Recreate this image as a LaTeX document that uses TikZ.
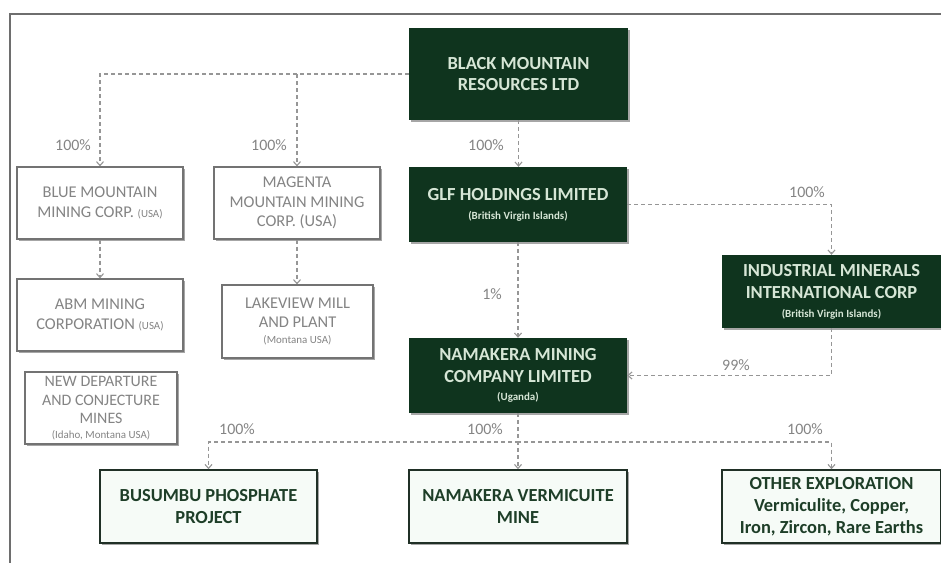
\documentclass[tikz,border=0pt]{standalone}
\usepackage{fontspec}
\setmainfont{Carlito}
\usetikzlibrary{arrows.meta,shadows}

\definecolor{deepgreen}{RGB}{15,52,30}
\definecolor{paletext}{RGB}{214,230,214}
\definecolor{greyline}{RGB}{150,150,150}
\definecolor{greytext}{RGB}{132,132,132}
\definecolor{greyborder}{RGB}{115,115,115}
\definecolor{mintfill}{RGB}{246,251,247}
\definecolor{darkborder}{RGB}{32,48,38}
\definecolor{forest}{RGB}{30,62,40}
\definecolor{framegrey}{RGB}{110,110,110}

\newcommand{\subnote}[1]{{\fontsize{11}{12}\selectfont #1}}

\tikzset{
  boxshadow/.style={drop shadow={shadow xshift=1.6bp, shadow yshift=-1.6bp, fill=black, opacity=0.35}},
  darkbox/.style={rectangle, fill=deepgreen, draw=none, text=paletext, align=center,
    inner sep=0pt, font=\bfseries\fontsize{18.5}{22}\selectfont, boxshadow},
  greybox/.style={rectangle, fill=white, draw=greyborder, line width=1.2bp, text=greytext,
    align=center, inner sep=0pt, font=\fontsize{16.5}{19.5}\selectfont, boxshadow},
  lightbox/.style={rectangle, fill=mintfill, draw=darkborder, line width=1.5bp, text=forest,
    align=center, inner sep=0pt, font=\bfseries\fontsize{18.5}{22}\selectfont, boxshadow},
  link/.style={draw=greyline, line width=1.1bp, dash pattern=on 4bp off 3bp,
    -{Straight Barb[length=4bp,width=7bp]}},
  pct/.style={text=greytext, inner sep=0pt, font=\fontsize{16}{18}\selectfont},
}

\begin{document}
\begin{tikzpicture}[x=1bp,y=-1bp]
\useasboundingbox (0,0) rectangle (941,563);

% page frame (left and top rules)
\draw[framegrey, line width=1.5bp] (10,563) -- (10,14) -- (941,14);

% parent and holding companies
\node[darkbox, minimum width=219bp, minimum height=92bp] (bmr) at (518.5,74)
  {BLACK MOUNTAIN\\RESOURCES LTD};
\node[darkbox, minimum width=218bp, minimum height=75bp] (glf) at (518,204.5)
  {GLF HOLDINGS LIMITED\\[-3pt]\subnote{(British Virgin Islands)}};
\node[darkbox, minimum width=218bp, minimum height=75bp] (nmc) at (518,375.5)
  {NAMAKERA MINING\\COMPANY LIMITED\\[-4pt]\subnote{(Uganda)}};
\node[darkbox, minimum width=219bp, minimum height=73bp] (imi) at (831.5,291.5)
  {INDUSTRIAL MINERALS\\INTERNATIONAL CORP\\[-3pt]\subnote{(British Virgin Islands)}};

% US subsidiaries
\node[greybox, minimum width=166bp, minimum height=72bp] (blue) at (100,203)
  {BLUE MOUNTAIN\\MINING CORP. \subnote{(USA)}};
\node[greybox, minimum width=166bp, minimum height=72bp] (mag) at (297,203)
  {MAGENTA\\MOUNTAIN MINING\\CORP. (USA)};
\node[greybox, minimum width=166bp, minimum height=72bp] (abm) at (100,315)
  {ABM MINING\\CORPORATION \subnote{(USA)}};
\node[greybox, minimum width=151bp, minimum height=73bp] (lake) at (297.5,321.5)
  {LAKEVIEW MILL\\AND PLANT\\[-3pt]\subnote{(Montana USA)}};
\node[greybox, minimum width=152bp, minimum height=72bp,
      font=\fontsize{16}{18.5}\selectfont] (newdep) at (101,408)
  {NEW DEPARTURE\\AND CONJECTURE\\MINES\\[-4pt]\subnote{(Idaho, Montana USA)}};

% Ugandan projects
\node[lightbox, minimum width=217bp, minimum height=73bp] (bus) at (208.5,506.5)
  {BUSUMBU PHOSPHATE\\PROJECT};
\node[lightbox, minimum width=218bp, minimum height=73bp] (verm) at (518,506.5)
  {NAMAKERA VERMICUITE\\MINE};
\node[lightbox, minimum width=219bp, minimum height=73bp] (other) at (831.5,506.5)
  {OTHER EXPLORATION\\Vermiculite, Copper,\\Iron, Zircon, Rare Earths};

% ownership links
\draw[link] (bmr.west) -| (blue.north);
\draw[link] (bmr.west) -| (mag.north);
\draw[link] (blue.south) -- (abm.north);
\draw[link] (mag.south) -- (mag.south |- lake.north);
\draw[link] (bmr.south) -- (bmr.south |- glf.north);
\draw[link] (glf.east) -| (imi.north);
\draw[link] (glf.south) -- (nmc.north);
\draw[link] (imi.south) |- (nmc.east);
\coordinate (split) at (518,442);
\draw[link] (nmc.south) -- (verm.north);
\draw[link] (nmc.south) -- (split) -| (bus.north);
\draw[link] (nmc.south) -- (split) -| (other.north);

% ownership percentages
\node[pct] (p1) at (73,145) {100\%};
\node[pct] (p2) at (269,145) {100\%};
\node[pct] (p3) at (486,145) {100\%};
\node[pct] (p4) at (807,192) {100\%};
\node[pct] (p5) at (492,294) {1\%};
\node[pct] (p6) at (736,365) {99\%};
\node[pct] (p7) at (237,429) {100\%};
\node[pct] (p8) at (485,429) {100\%};
\node[pct] (p9) at (805,429) {100\%};
\end{tikzpicture}
\end{document}
